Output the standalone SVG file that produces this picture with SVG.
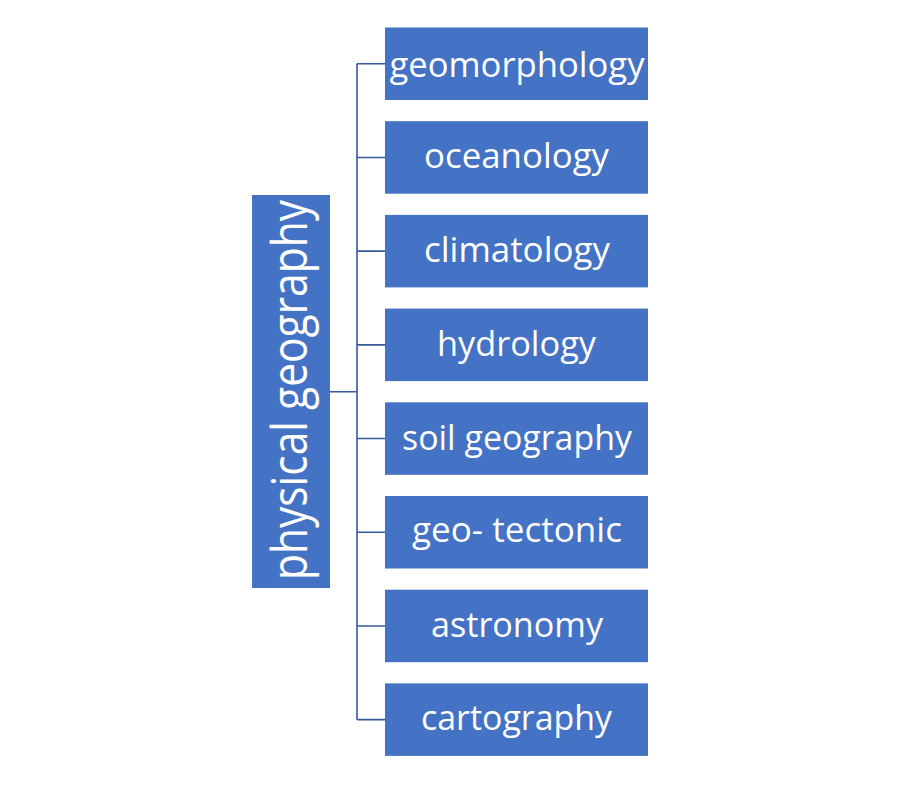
<svg xmlns="http://www.w3.org/2000/svg" width="900" height="795" viewBox="0 0 900 795">
<style>
.box{fill:#4472C4;}
.lbl{font-family:"Open Sans","Noto Sans",sans-serif;font-size:34px;fill:#FFFFFF;text-anchor:middle;}
.root{font-family:"Open Sans","Noto Sans",sans-serif;font-size:50px;fill:#FFFFFF;text-anchor:middle;}
.con{stroke:#36599A;stroke-width:1.6;fill:none;}
</style>
<rect width="900" height="795" fill="#FFFFFF"/>
<g id="connectors">
<path class="con" d="M330,391.7 H357 M357,63.75 V719.65 M357,63.75 H385 M357,157.45 H385 M357,251.15 H385 M357,344.85 H385 M357,438.55 H385 M357,532.25 H385 M357,625.95 H385 M357,719.65 H385"/>
</g>
<g id="physical-geography">
<rect class="box" x="252" y="195" width="78" height="393"/>
<text class="root" transform="translate(307,390) rotate(-90)" x="0" y="0" textLength="380" lengthAdjust="spacingAndGlyphs">physical geography</text>
</g>
<g id="geomorphology">
<rect class="box" x="385" y="27.5" width="263" height="72.5"/>
<text class="lbl" x="517" y="76.7" textLength="255" lengthAdjust="spacingAndGlyphs">geomorphology</text>
</g>
<g id="oceanology">
<rect class="box" x="385" y="121.2" width="263" height="72.5"/>
<text class="lbl" x="516.5" y="168" textLength="185" lengthAdjust="spacingAndGlyphs">oceanology</text>
</g>
<g id="climatology">
<rect class="box" x="385" y="214.9" width="263" height="72.5"/>
<text class="lbl" x="517" y="262" textLength="186" lengthAdjust="spacingAndGlyphs">climatology</text>
</g>
<g id="hydrology">
<rect class="box" x="385" y="308.6" width="263" height="72.5"/>
<text class="lbl" x="516.5" y="355.7" textLength="159" lengthAdjust="spacingAndGlyphs">hydrology</text>
</g>
<g id="soil-geography">
<rect class="box" x="385" y="402.3" width="263" height="72.5"/>
<text class="lbl" x="517" y="449.8" textLength="230" lengthAdjust="spacingAndGlyphs">soil geography</text>
</g>
<g id="geo-tectonic">
<rect class="box" x="385" y="496" width="263" height="72.5"/>
<text class="lbl" x="517" y="542" textLength="210" lengthAdjust="spacingAndGlyphs">geo- tectonic</text>
</g>
<g id="astronomy">
<rect class="box" x="385" y="589.7" width="263" height="72.5"/>
<text class="lbl" x="517" y="636.8" textLength="172" lengthAdjust="spacingAndGlyphs">astronomy</text>
</g>
<g id="cartography">
<rect class="box" x="385" y="683.4" width="263" height="72.5"/>
<text class="lbl" x="516.5" y="730.3" textLength="191" lengthAdjust="spacingAndGlyphs">cartography</text>
</g>
</svg>
